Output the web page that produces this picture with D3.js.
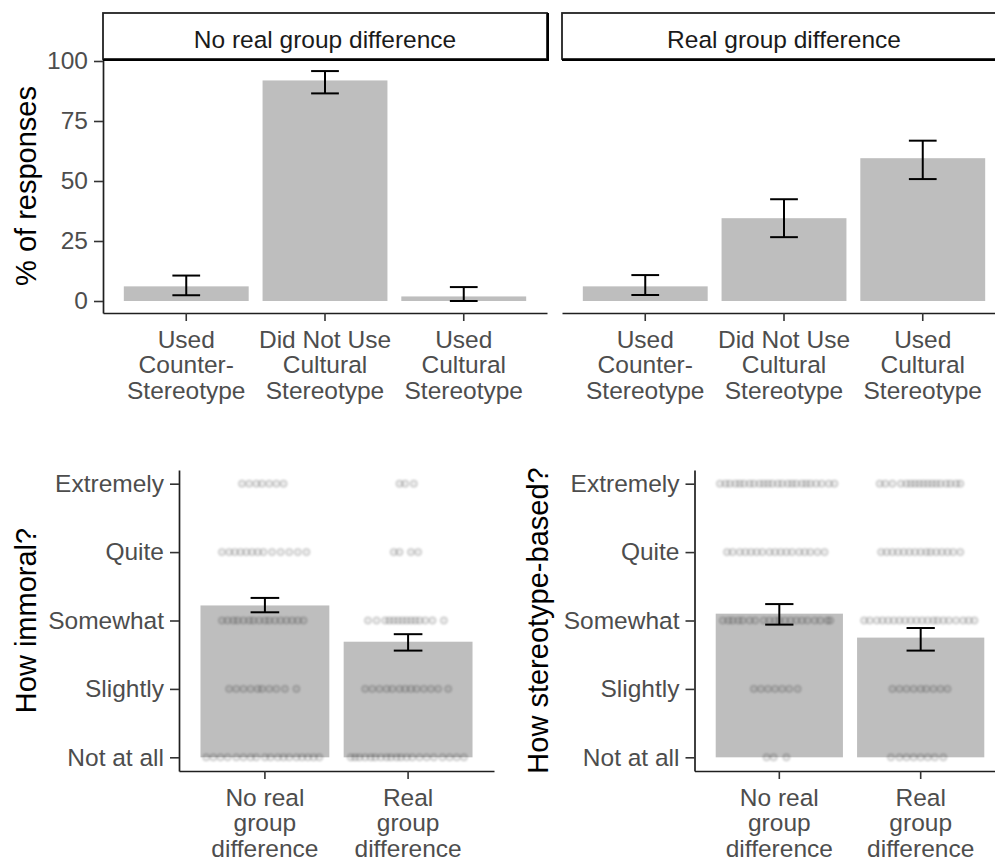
<!DOCTYPE html>
<html>
<head>
<meta charset="utf-8">
<script src="https://cdn.jsdelivr.net/npm/d3@7"></script>
<style>
  body { margin: 0; background: #fff; }
  text { font-family: "Liberation Sans", Arial, sans-serif; }
</style>
</head>
<body>
<svg id="chart" width="995" height="862"></svg>
<script>
// ---- Top row: share of responses by response type ----
const responseCategories = ["Used Counter-Stereotype", "Did Not Use Cultural Stereotype", "Used Cultural Stereotype"];
const responseLabelLines = [["Used", "Counter-", "Stereotype"], ["Did Not Use", "Cultural", "Stereotype"], ["Used", "Cultural", "Stereotype"]];
const conditions = ["No real group difference", "Real group difference"];
const conditionLabelLines = [["No real", "group", "difference"], ["Real", "group", "difference"]];

const pctNoReal = [6.1, 91.9, 1.9];
const pctNoRealLow = [2.4, 86.5, 0.0];
const pctNoRealHigh = [10.6, 95.8, 5.8];
const pctReal = [6.1, 34.5, 59.5];
const pctRealLow = [2.5, 26.6, 50.8];
const pctRealHigh = [10.8, 42.4, 66.8];
const percentTicks = [0, 25, 50, 75, 100];

// ---- Bottom row: ratings (0 = Not at all ... 4 = Extremely) ----
const ratingLabels = ["Not at all", "Slightly", "Somewhat", "Quite", "Extremely"];
const immoralMean = [2.22, 1.69];
const immoralLow = [2.12, 1.56];
const immoralHigh = [2.33, 1.80];
const stereoMean = [2.10, 1.75];
const stereoLow = [1.94, 1.56];
const stereoHigh = [2.24, 1.89];

// Individual responses: horizontal jitter (in category widths) per rating level
const immoralNoRealJitter = [
  [-0.41, -0.36, -0.31, -0.26, -0.2, -0.15, -0.1, -0.06, 0.0, 0.04, 0.09, 0.13, 0.17, 0.22, 0.26, 0.3, 0.34, 0.38],
  [-0.25, -0.2, -0.15, -0.1, -0.05, -0.02, 0.03, 0.08, 0.14, 0.22],
  [-0.3, -0.26, -0.22, -0.19, -0.15, -0.11, -0.08, -0.04, 0.0, 0.03, 0.07, 0.11, 0.15, 0.19, 0.23, 0.27],
  [-0.3, -0.25, -0.21, -0.17, -0.13, -0.09, -0.05, -0.01, 0.05, 0.11, 0.17, 0.23, 0.29],
  [-0.16, -0.11, -0.06, -0.02, 0.03, 0.08, 0.13]
];
const immoralRealJitter = [
  [-0.4, -0.37, -0.34, -0.3, -0.26, -0.23, -0.19, -0.15, -0.12, -0.08, -0.05, -0.01, 0.03, 0.08, 0.13, 0.18, 0.24, 0.29, 0.34, 0.39],
  [-0.3, -0.25, -0.2, -0.15, -0.11, -0.06, -0.02, 0.02, 0.06, 0.11, 0.16, 0.21, 0.28],
  [-0.28, -0.22, -0.16, -0.13, -0.1, -0.07, -0.04, -0.01, 0.02, 0.05, 0.08, 0.12, 0.17, 0.25],
  [-0.1, -0.06, 0.02, 0.07],
  [-0.06, -0.02, 0.04]
];
const stereoNoRealJitter = [
  [-0.09, -0.04, 0.05],
  [-0.18, -0.13, -0.08, -0.03, 0.02, 0.07, 0.13],
  [-0.4, -0.36, -0.33, -0.29, -0.26, -0.21, -0.17, -0.11, -0.07, -0.03, 0.0, 0.04, 0.08, 0.12, 0.16, 0.2, 0.25, 0.29, 0.34, 0.36],
  [-0.37, -0.33, -0.28, -0.24, -0.2, -0.16, -0.12, -0.07, -0.03, 0.01, 0.05, 0.09, 0.14, 0.18, 0.22, 0.27, 0.32],
  [-0.42, -0.38, -0.35, -0.31, -0.28, -0.25, -0.21, -0.18, -0.14, -0.11, -0.08, -0.05, -0.01, 0.02, 0.06, 0.09, 0.12, 0.16, 0.19, 0.22, 0.26, 0.3, 0.35, 0.39]
];
const stereoRealJitter = [
  [-0.21, -0.15, -0.1, -0.05, 0.0, 0.05, 0.1, 0.16],
  [-0.2, -0.15, -0.1, -0.05, 0.0, 0.04, 0.09, 0.14, 0.19],
  [-0.4, -0.36, -0.31, -0.27, -0.23, -0.19, -0.15, -0.11, -0.07, -0.03, 0.01, 0.05, 0.09, 0.12, 0.16, 0.2, 0.25, 0.3, 0.34, 0.38],
  [-0.28, -0.24, -0.2, -0.16, -0.12, -0.08, -0.04, 0.0, 0.04, 0.07, 0.11, 0.15, 0.19, 0.23, 0.28],
  [-0.29, -0.25, -0.2, -0.14, -0.1, -0.07, -0.04, -0.01, 0.02, 0.05, 0.08, 0.11, 0.14, 0.18, 0.21, 0.25, 0.28]
];

const BAR = "#BEBEBE";
const AXIS = "#1f1f1f";
const TICK_TEXT = "#4D4D4D";
const TICK_FONT = 24.5;
const TITLE_FONT = 29;

const svg = d3.select("#chart");
svg.append("rect").attr("width", 995).attr("height", 862).attr("fill", "#fff");

const defs = svg.append("defs");
defs.append("filter").attr("id", "soft").attr("x", "-20%").attr("y", "-50%").attr("width", "140%").attr("height", "200%")
  .append("feGaussianBlur").attr("stdDeviation", 0.9);

function bandScale(domain, x0, x1) {
  return d3.scaleBand().domain(domain).range([x0, x1]).paddingInner(0.1).paddingOuter(0.15);
}

function styleAxis(g) {
  g.select(".domain").attr("stroke", AXIS).attr("stroke-width", 1.7);
  g.selectAll(".tick line").attr("stroke", "#333").attr("stroke-width", 1.6);
  g.selectAll(".tick text").attr("fill", TICK_TEXT).style("font-size", TICK_FONT + "px")
    .attr("font-family", "'Liberation Sans', Arial, sans-serif");
}

function xAxisMultiline(g, x, yPos, lines) {
  const ax = g.append("g").attr("transform", `translate(0,${yPos})`)
    .call(d3.axisBottom(x).tickSize(8).tickSizeOuter(0).tickPadding(0));
  styleAxis(ax);
  ax.selectAll(".tick text").each(function (d, i) {
    const t = d3.select(this).text(null).attr("y", 0).attr("dy", null);
    lines[i].forEach((ln, k) => {
      t.append("tspan").attr("x", 0).attr("y", 34.5 + k * 25.6).text(ln);
    });
  });
  return ax;
}

function errorBars(g, x, y, cats, lo, hi) {
  const cap = x.step() * 0.2;
  cats.forEach((c, i) => {
    const cx = x(c) + x.bandwidth() / 2;
    const eg = g.append("g").attr("stroke", "#000").attr("stroke-width", 2);
    eg.append("line").attr("x1", cx).attr("x2", cx).attr("y1", y(lo[i])).attr("y2", y(hi[i]));
    eg.append("line").attr("x1", cx - cap / 2).attr("x2", cx + cap / 2).attr("y1", y(lo[i])).attr("y2", y(lo[i]));
    eg.append("line").attr("x1", cx - cap / 2).attr("x2", cx + cap / 2).attr("y1", y(hi[i])).attr("y2", y(hi[i]));
  });
}

function strip(g, x0, x1, y0, y1, label) {
  g.append("rect").attr("x", x0).attr("y", y0).attr("width", x1 - x0).attr("height", y1 - y0)
    .attr("fill", "#fff").attr("stroke", "#222").attr("stroke-width", 1.8);
  g.append("line").attr("x1", x0).attr("x2", x1 + 1).attr("y1", y1 + 1).attr("y2", y1 + 1)
    .attr("stroke", "#000").attr("stroke-width", 2);
  g.append("line").attr("x1", x1 + 1).attr("x2", x1 + 1).attr("y1", y0).attr("y2", y1 + 2)
    .attr("stroke", "#000").attr("stroke-width", 2);
  g.append("text").attr("x", (x0 + x1) / 2).attr("y", y0 + 35).attr("text-anchor", "middle")
    .attr("fill", "#1A1A1A").style("font-size", "24.5px").text(label);
}

function yTitle(g, xBase, yCenter, label) {
  g.append("text").attr("transform", `translate(${xBase},${yCenter}) rotate(-90)`)
    .attr("text-anchor", "middle").attr("fill", "#000").style("font-size", TITLE_FONT + "px").text(label);
}

// ---------- Top row ----------
const topY = d3.scaleLinear().domain([-5, 100.83]).range([313, 59]);
const topPanels = [
  { x0: 103, x1: 547, vals: pctNoReal, lo: pctNoRealLow, hi: pctNoRealHigh, label: conditions[0], yAxis: true },
  { x0: 562, x1: 1006, vals: pctReal, lo: pctRealLow, hi: pctRealHigh, label: conditions[1], yAxis: false }
];
topPanels.forEach(p => {
  const g = svg.append("g");
  const x = bandScale(responseCategories, p.x0, p.x1);
  g.selectAll("rect.bar").data(p.vals).enter().append("rect").attr("class", "bar")
    .attr("x", (d, i) => x(responseCategories[i]))
    .attr("width", x.bandwidth())
    .attr("y", d => topY(d))
    .attr("height", d => topY(0) - topY(d))
    .attr("fill", BAR);
  errorBars(g, x, topY, responseCategories, p.lo, p.hi);
  xAxisMultiline(g, x, 313, responseLabelLines);
  if (p.yAxis) {
    const ay = g.append("g").attr("transform", `translate(${p.x0},0)`)
      .call(d3.axisLeft(topY).tickValues(percentTicks).tickSize(9).tickSizeOuter(0).tickPadding(6));
    styleAxis(ay);
  }
  strip(g, p.x0, p.x1, 13, 59, p.label);
});
yTitle(svg, 36, 186, "% of responses");

// ---------- Bottom row ----------
const botY = d3.scaleLinear().domain([-0.2, 4.2]).range([771, 470]);
const botPanels = [
  { x0: 179, x1: 494, mean: immoralMean, lo: immoralLow, hi: immoralHigh, jitter: [immoralNoRealJitter, immoralRealJitter], title: "How immoral?", titleX: 36 },
  { x0: 694.5, x1: 1005.5, mean: stereoMean, lo: stereoLow, hi: stereoHigh, jitter: [stereoNoRealJitter, stereoRealJitter], title: "How stereotype-based?", titleX: 548 }
];
botPanels.forEach(p => {
  const g = svg.append("g");
  const x = bandScale(conditions, p.x0, p.x1);
  g.selectAll("rect.bar").data(p.mean).enter().append("rect").attr("class", "bar")
    .attr("x", (d, i) => x(conditions[i]))
    .attr("width", x.bandwidth())
    .attr("y", d => botY(d))
    .attr("height", d => botY(0) - botY(d))
    .attr("fill", BAR);

  // individual ratings
  const pts = [];
  p.jitter.forEach((levels, ci) => {
    levels.forEach((offs, lvl) => {
      offs.forEach(o => pts.push({ c: conditions[ci], lvl, o }));
    });
  });
  g.append("g").attr("filter", "url(#soft)").selectAll("circle").data(pts).enter().append("circle")
    .attr("cx", d => x(d.c) + x.bandwidth() / 2 + d.o * x.step())
    .attr("cy", d => botY(d.lvl))
    .attr("r", 3.4)
    .attr("fill", "rgba(0,0,0,0.08)")
    .attr("stroke", "rgba(0,0,0,0.26)")
    .attr("stroke-width", 1);

  errorBars(g, x, botY, conditions, p.lo, p.hi);
  xAxisMultiline(g, x, 771, conditionLabelLines);
  const ay = g.append("g").attr("transform", `translate(${p.x0},0)`)
    .call(d3.axisLeft(botY).tickValues([0, 1, 2, 3, 4]).tickFormat(i => ratingLabels[i])
      .tickSize(9).tickSizeOuter(0).tickPadding(6));
  styleAxis(ay);
  yTitle(svg, p.titleX, 620.5, p.title);
});
</script>
</body>
</html>
